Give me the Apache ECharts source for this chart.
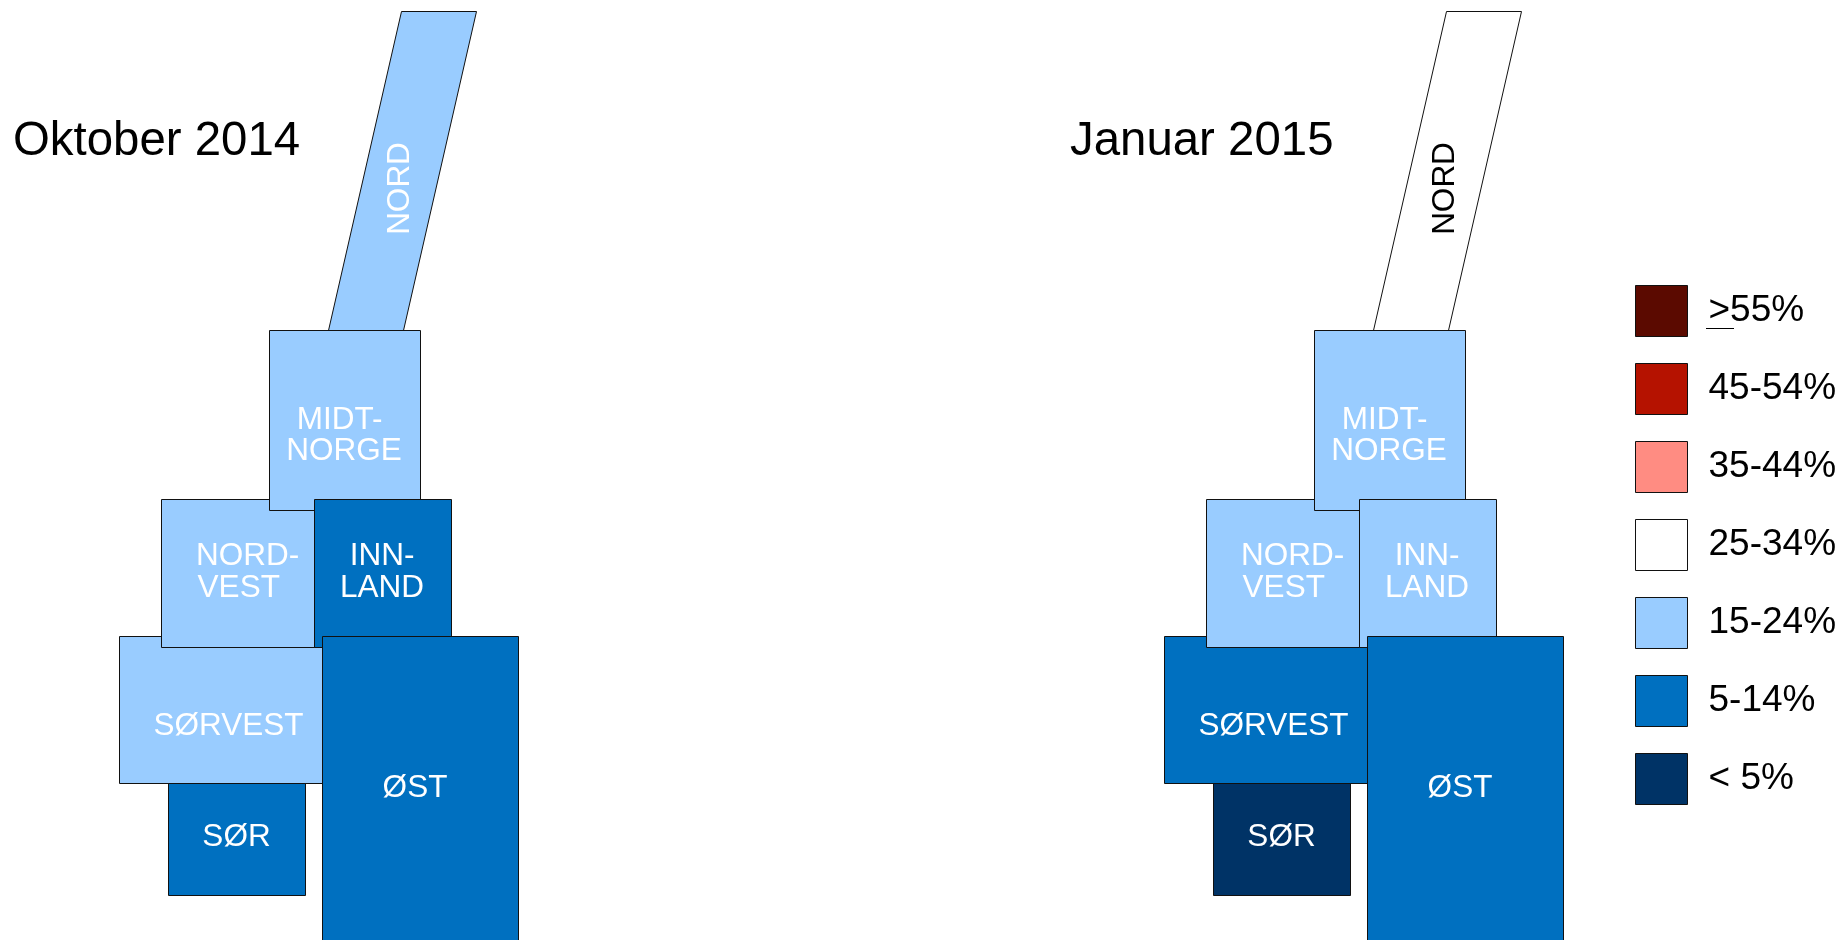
<!DOCTYPE html>
<html>
<head>
<meta charset="utf-8">
<style>html,body{margin:0;padding:0;background:#fff}#c{width:1841px;height:940px}</style>
<script src="https://cdn.jsdelivr.net/npm/echarts@6/dist/echarts.min.js"></script>
</head>
<body>
<div id="c"></div>
<script>
// Regions, in back-to-front drawing order
const regionNames = ['NORD', 'SØRVEST', 'SØR', 'NORD-VEST', 'MIDT-NORGE', 'INNLAND', 'ØST'];
const regionLabels = ['NORD', 'SØRVEST', 'SØR', 'NORD-\nVEST  ', 'MIDT- \nNORGE', 'INN-\nLAND', 'ØST'];

// Share bands
const bandNames = ['>55%', '45-54%', '35-44%', '25-34%', '15-24%', '5-14%', '< 5%'];
const bandColors = ['#5B0A00', '#B51200', '#FF8C82', '#FFFFFF', '#99CCFF', '#0070C0', '#003366'];

// Band of each region, in regionNames order
const october2014 = ['15-24%', '15-24%', '5-14%', '15-24%', '15-24%', '5-14%', '5-14%'];
const january2015 = ['25-34%', '5-14%', '< 5%', '15-24%', '15-24%', '15-24%', '5-14%'];

const panelTitles = ['Oktober 2014', 'Januar 2015'];

// Schematic cartogram outlines, in map units
const outlineNord = [[401.5, 11.5], [476.5, 11.5], [403.5, 330.5], [328.5, 330.5]];
const outlineSorvest = [[119.5, 636.5], [330.5, 636.5], [330.5, 783.5], [119.5, 783.5]];
const outlineSor = [[168.5, 783.5], [305.5, 783.5], [305.5, 895.5], [168.5, 895.5]];
const outlineNordvest = [[161.5, 499.5], [318.5, 499.5], [318.5, 647.5], [161.5, 647.5]];
const outlineMidt = [[269.5, 330.5], [420.5, 330.5], [420.5, 510.5], [269.5, 510.5]];
const outlineInnland = [[314.5, 499.5], [451.5, 499.5], [451.5, 647.5], [314.5, 647.5]];
const outlineOst = [[322.5, 636.5], [518.5, 636.5], [518.5, 1000], [322.5, 1000]];
const outlines = [outlineNord, outlineSorvest, outlineSor, outlineNordvest, outlineMidt, outlineInnland, outlineOst];
const labelAnchors = [[400.5, 188.5], [228.5, 726], [236.5, 837], [247.5, 572.5], [344, 436], [382, 572.5], [415, 788.5]];
const labelTurned = [true, false, false, false, false, false, false];

function renderRegion(params, api) {
  const r = api.value(0);
  const band = api.value(1);
  const fill = bandColors[band];
  const pts = outlines[r].map(p => api.coord(p));
  const a = api.coord(labelAnchors[r]);
  const txt = fill === '#FFFFFF' ? '#000000' : '#FFFFFF';
  return {
    type: 'group',
    children: [
      { type: 'polygon', z2: r * 2 + 1, shape: { points: pts },
        style: { fill: fill, stroke: '#111111', lineWidth: 1 } },
      { type: 'text', z2: 100 + r, x: a[0], y: a[1], rotation: labelTurned[r] ? Math.PI / 2 : 0,
        style: { text: regionLabels[r], fill: txt, fontFamily: 'Liberation Sans', fontSize: 31.5,
          lineHeight: 31.5, align: 'center', verticalAlign: 'middle' } }
    ]
  };
}

function rows(bands) {
  return bands.map((b, i) => [i, bandNames.indexOf(b)]);
}

function panelSeries(idx, bands, name) {
  return { type: 'custom', name: name, xAxisIndex: idx, yAxisIndex: idx, clip: false,
    renderItem: renderRegion, data: rows(bands), silent: true, encode: { x: 0, y: 1 } };
}

const legendSeries = bandNames.map((n, i) => ({
  type: 'custom', name: n, xAxisIndex: 0, yAxisIndex: 0, data: [], silent: true,
  renderItem: () => null, itemStyle: { color: bandColors[i] }
}));

const axisX = i => ({ type: 'value', gridIndex: i, min: 0, max: 796, show: false });
const axisY = i => ({ type: 'value', gridIndex: i, min: 0, max: 940, inverse: true, show: false });

const titleStyle = { fontSize: 47.4, fontWeight: 'normal', color: '#000', fontFamily: 'Liberation Sans' };

const chart = echarts.init(document.getElementById('c'), null, { renderer: 'canvas' });
chart.setOption({
  animation: false,
  backgroundColor: '#ffffff',
  textStyle: { fontFamily: 'Liberation Sans' },
  title: [
    { text: panelTitles[0], left: 13, top: 118, padding: 0, textStyle: titleStyle },
    { text: panelTitles[1], left: 1070, top: 118, padding: 0, textStyle: titleStyle }
  ],
  grid: [
    { left: 0, top: 0, width: 796, height: 940 },
    { left: 1045, top: 0, width: 796, height: 940 }
  ],
  xAxis: [axisX(0), axisX(1)],
  yAxis: [axisY(0), axisY(1)],
  legend: {
    orient: 'vertical', left: 1635, top: 285, padding: 0,
    itemWidth: 52, itemHeight: 51, itemGap: 26, icon: 'rect', selectedMode: false,
    data: bandNames,
    itemStyle: { borderColor: '#111111', borderWidth: 1 },
    textStyle: { fontSize: 37, color: '#000', fontFamily: 'Liberation Sans', padding: [0, 0, 0, 16] }
  },
  graphic: [{ type: 'line', shape: { x1: 1706, y1: 328.5, x2: 1734, y2: 328.5 }, style: { stroke: '#000', lineWidth: 1 } }],
  series: [panelSeries(0, october2014, panelTitles[0]), panelSeries(1, january2015, panelTitles[1])].concat(legendSeries)
});
</script>
</body>
</html>
